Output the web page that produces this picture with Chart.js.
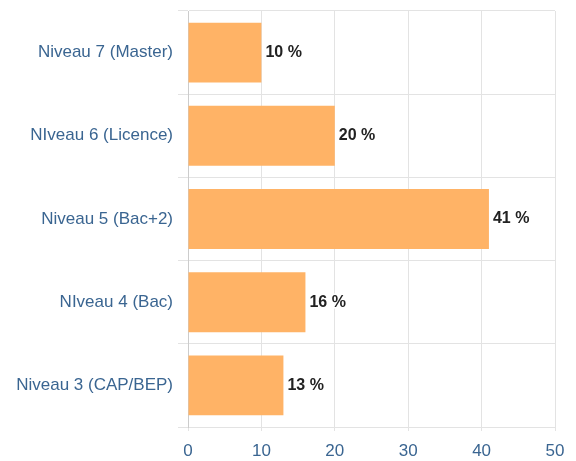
<!DOCTYPE html>
<html><head><meta charset="utf-8">
<script src="https://cdn.jsdelivr.net/npm/chart.js@4/dist/chart.umd.min.js"></script>
<style>html,body{margin:0;padding:0;background:#fff;}#wrap{width:576px;height:461px;}</style>
</head><body><div id="wrap"><canvas id="c" width="576" height="461"></canvas></div>
<script>
const categories = ["Niveau 7 (Master)", "NIveau 6 (Licence)", "Niveau 5 (Bac+2)", "NIveau 4 (Bac)", "Niveau 3 (CAP/BEP)"];
const values = [10, 20, 41, 16, 13];
const xTicks = [0, 10, 20, 30, 40, 50];

const labelColor = '#3a6591';
const gridColor = '#e3e3e3';

const valueLabels = {
  id: 'valueLabels',
  afterDatasetsDraw(chart) {
    const ctx = chart.ctx;
    const meta = chart.getDatasetMeta(0);
    ctx.save();
    ctx.font = 'bold 16px "Liberation Sans", Arial, sans-serif';
    ctx.textBaseline = 'middle';
    ctx.textAlign = 'left';
    ctx.lineJoin = 'round';
    meta.data.forEach((bar, i) => {
      const txt = values[i] + ' %';
      const x = bar.x + 4, y = bar.y;
      ctx.strokeStyle = '#ffffff';
      ctx.lineWidth = 3;
      ctx.strokeText(txt, x, y);
      ctx.fillStyle = '#222222';
      ctx.fillText(txt, x, y);
    });
    ctx.restore();
  }
};

new Chart(document.getElementById('c'), {
  type: 'bar',
  data: {
    labels: categories,
    datasets: [{
      data: values,
      backgroundColor: '#ffb366',
      borderWidth: 0,
      barPercentage: 0.72,
      categoryPercentage: 1.0
    }]
  },
  options: {
    indexAxis: 'y',
    responsive: false,
    animation: false,
    layout: { padding: { top: 11, right: 21, bottom: 0, left: 0 } },
    plugins: { legend: { display: false }, tooltip: { enabled: false } },
    scales: {
      x: {
        min: 0, max: 50,
        afterBuildTicks(scale) { scale.ticks = xTicks.map(v => ({ value: v })); },
        afterFit(scale) { scale.height = 34; scale.paddingLeft = 0; scale.paddingRight = 0; },
        grid: { color: gridColor, tickLength: 4, drawTicks: true },
        border: { display: false },
        ticks: { color: labelColor, padding: 10, font: { size: 17, family: '"Liberation Sans", Arial, sans-serif' } }
      },
      y: {
        afterFit(scale) { scale.width = 188; scale.paddingTop = 0; scale.paddingBottom = 0; },
        grid: { color: gridColor, tickLength: 10, offset: true },
        border: { color: '#cccccc' },
        ticks: { color: labelColor, padding: 5, font: { size: 17, family: '"Liberation Sans", Arial, sans-serif' } }
      }
    }
  },
  plugins: [valueLabels]
});
</script>
</body></html>
